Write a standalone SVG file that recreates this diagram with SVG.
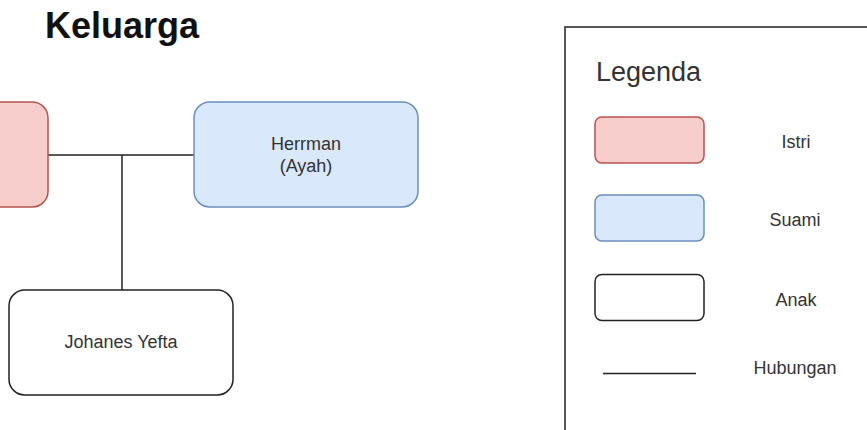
<svg xmlns="http://www.w3.org/2000/svg" width="867" height="430" viewBox="0 0 867 430">
<style>
text{font-family:"Liberation Sans",Arial,Helvetica,sans-serif;fill:#333;}
.lbl{font-size:18px;text-anchor:middle;}
.istri{fill:#f8cecc;stroke:#b85450;stroke-width:1.5;}
.suami{fill:#dae8fc;stroke:#6c8ebf;stroke-width:1.5;}
.anak{fill:#fff;stroke:#222;stroke-width:1.5;}
.edge{stroke:#222;stroke-width:1.5;fill:none;}
</style>
<rect width="867" height="430" fill="#fff"/>
<text id="title" x="45" y="38" style="font-size:36px;font-weight:bold;fill:#111">Keluarga</text>
<g id="connectors">
<path class="edge" d="M48 155H194"/>
<path class="edge" d="M122 155V290"/>
</g>
<g id="node-istri">
<rect class="istri" x="-176" y="102" width="224" height="105" rx="15.75"/>
</g>
<g id="node-herrman">
<rect class="suami" x="194" y="102" width="224" height="105" rx="15.75"/>
<text class="lbl" x="306" y="150">Herrman</text>
<text class="lbl" x="306" y="172">(Ayah)</text>
</g>
<g id="node-johanes">
<rect class="anak" x="9" y="290" width="224" height="105" rx="15.75"/>
<text class="lbl" x="121" y="348">Johanes Yefta</text>
</g>
<g id="legend">
<rect x="565" y="27" width="400" height="500" fill="#fff" stroke="#222" stroke-width="1.5"/>
<text x="596" y="81" style="font-size:27px">Legenda</text>
<rect class="istri" x="595" y="117" width="109" height="46" rx="6.9"/>
<text class="lbl" x="796" y="148">Istri</text>
<rect class="suami" x="595" y="195" width="109" height="46" rx="6.9"/>
<text class="lbl" x="795" y="226">Suami</text>
<rect class="anak" x="595" y="274.5" width="109" height="46" rx="6.9"/>
<text class="lbl" x="796" y="306">Anak</text>
<path class="edge" d="M603 373.5H696"/>
<text class="lbl" x="795" y="374">Hubungan</text>
</g>
</svg>
